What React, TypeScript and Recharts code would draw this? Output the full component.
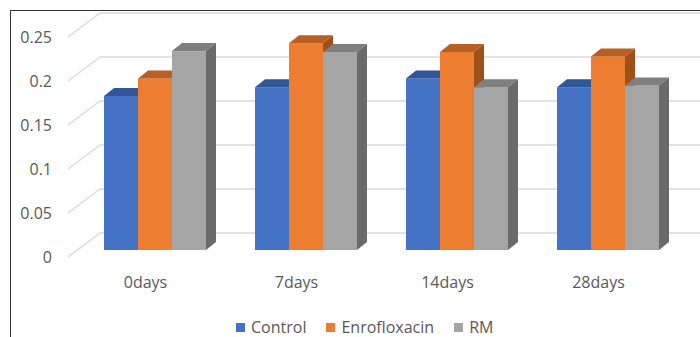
import React from 'react';
import { BarChart, Bar, XAxis, YAxis, CartesianGrid } from 'recharts';

const categories = ['0days', '7days', '14days', '28days'];
const control = [0.175, 0.185, 0.195, 0.185];
const enrofloxacin = [0.195, 0.235, 0.225, 0.22];
const rm = [0.226, 0.225, 0.185, 0.187];
const yTicks = [0, 0.05, 0.1, 0.15, 0.2, 0.25];

const series = [
  { key: 'Control', values: control, front: '#4472C4', top: '#30569A', side: '#2B4C89' },
  { key: 'Enrofloxacin', values: enrofloxacin, front: '#ED7D31', top: '#BA5F21', side: '#9E5019' },
  { key: 'RM', values: rm, front: '#A5A5A5', top: '#7F7F7F', side: '#6A6A6A' },
];

const data = categories.map((name, i) => {
  const row: Record<string, string | number> = { name };
  series.forEach((s) => {
    row[s.key] = s.values[i];
  });
  return row;
});

const TEXT = '#595959';
const GRID = '#D9D9D9';
const FONT = '"Open Sans", sans-serif';

// depth of the fake 3d extrusion
const DX = 10;
const DY = 8;

const Box3D = (props: any) => {
  const { x = 0, y = 0, width = 0, height = 0, front, top, side } = props;
  if (height <= 0) return null;
  return (
    <g>
      <rect x={x} y={y} width={width} height={height} fill={front} />
      <polygon
        points={`${x},${y} ${x + DX},${y - DY} ${x + width + DX},${y - DY} ${x + width},${y}`}
        fill={top}
      />
      <polygon
        points={`${x + width},${y} ${x + width + DX},${y - DY} ${x + width + DX},${y + height - DY} ${x + width},${y + height}`}
        fill={side}
      />
    </g>
  );
};

// back wall line + diagonal on the side wall
const WallLine = (props: any) => {
  const { x1, y1, x2, index } = props;
  return (
    <g key={`wall-${index}`}>
      <line x1={x1 - 11} y1={y1 + 7} x2={x1 + 21} y2={y1 - 17} stroke={GRID} strokeWidth={1.5} />
      <line x1={x1 + 21} y1={y1 - 17} x2={x2 + 17} y2={y1 - 17} stroke={GRID} strokeWidth={1.5} />
    </g>
  );
};

const YTick = (props: any) => {
  const { x, y, payload } = props;
  return (
    <text x={x - 27} y={y + 7} textAnchor="end" dominantBaseline="central" fill={TEXT} fontSize={16} fontFamily={FONT}>
      {payload.value}
    </text>
  );
};

const XTick = (props: any) => {
  const { x, y, payload } = props;
  return (
    <text x={x - 9} y={y + 32} textAnchor="middle" dominantBaseline="central" fill={TEXT} fontSize={16} fontFamily={FONT}>
      {payload.value}
    </text>
  );
};

export default function App() {
  return (
    <div style={{ position: 'fixed', left: 0, top: 0, width: 700, height: 337, background: '#fff', overflow: 'hidden' }}>
      <div
        style={{
          position: 'absolute',
          left: 10,
          top: 10,
          width: 700,
          height: 340,
          borderTop: '1.5px solid #333',
          borderLeft: '1.5px solid #333',
        }}
      />
      <BarChart
        width={700}
        height={337}
        data={data}
        margin={{ top: 30, right: 17, bottom: 0, left: 0 }}
        barGap={0}
        barSize={34}
        style={{ position: 'absolute', left: 0, top: 0 }}
      >
        <CartesianGrid vertical={false} horizontal={(p: any) => <WallLine {...p} />} />
        <XAxis
          dataKey="name"
          axisLine={false}
          tickLine={false}
          tickSize={0}
          tickMargin={0}
          height={87}
          tick={<XTick />}
          interval={0}
        />
        <YAxis
          domain={[0, 0.25]}
          ticks={yTicks}
          axisLine={false}
          tickLine={false}
          tickSize={0}
          tickMargin={0}
          width={79}
          tick={<YTick />}
        />
        {series.map((s) => (
          <Bar
            key={s.key}
            dataKey={s.key}
            isAnimationActive={false}
            shape={(p: any) => <Box3D {...p} front={s.front} top={s.top} side={s.side} />}
          />
        ))}
      </BarChart>
      <div
        style={{
          position: 'absolute',
          left: 236,
          top: 319,
          display: 'flex',
          alignItems: 'center',
          fontFamily: FONT,
          fontSize: 16,
          color: TEXT,
          lineHeight: '17px',
        }}
      >
        {series.map((s) => (
          <div key={s.key} style={{ display: 'flex', alignItems: 'center', marginRight: 20 }}>
            <span style={{ width: 9, height: 9, background: s.front, marginRight: 6, display: 'inline-block' }} />
            <span>{s.key}</span>
          </div>
        ))}
      </div>
    </div>
  );
}
